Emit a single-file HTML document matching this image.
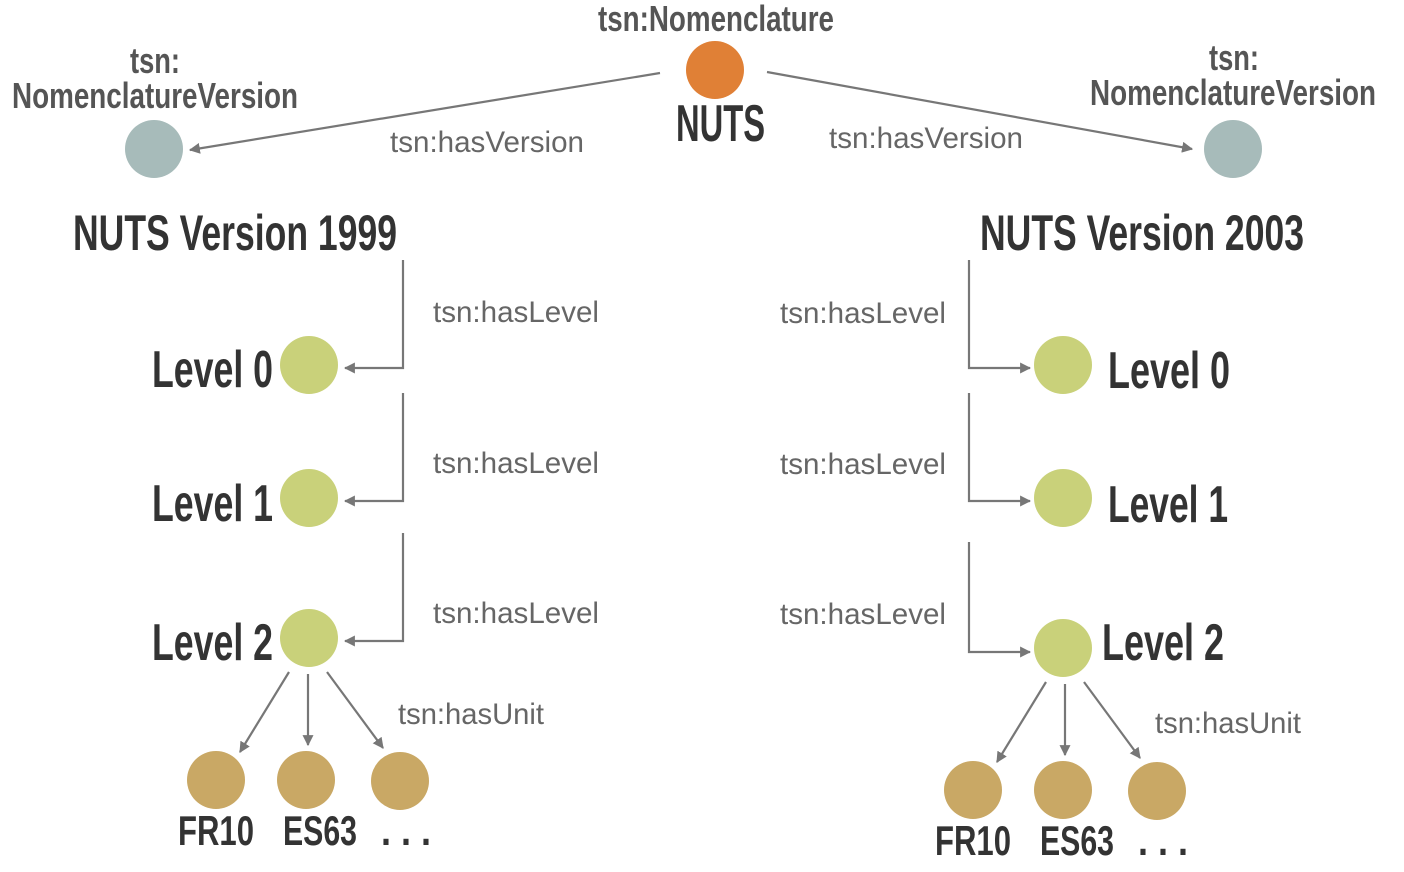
<!DOCTYPE html>
<html><head><meta charset="utf-8"><style>
html,body{margin:0;padding:0;background:#fff;}
svg{display:block}
.b{font-family:"Liberation Sans Narrow","Liberation Sans",sans-serif;font-weight:bold;}
.r{font-family:"Liberation Sans",sans-serif;fill:#666;font-size:30px;}
</style></head><body>
<svg width="1404" height="872" viewBox="0 0 1404 872" xmlns="http://www.w3.org/2000/svg">
<defs><marker id="a" viewBox="0 0 10 10" refX="9" refY="5" markerWidth="5" markerHeight="5" orient="auto"><path d="M0,0 L10,5 L0,10 z" fill="#777"/></marker></defs>
<g class="b" fill="#555" font-size="36">
<text x="598" y="31" textLength="236" lengthAdjust="spacingAndGlyphs">tsn:Nomenclature</text>
<text x="130" y="73" textLength="50" lengthAdjust="spacingAndGlyphs">tsn:</text>
<text x="12" y="108" textLength="286" lengthAdjust="spacingAndGlyphs">NomenclatureVersion</text>
<text x="1209" y="70" textLength="50" lengthAdjust="spacingAndGlyphs">tsn:</text>
<text x="1090" y="105" textLength="286" lengthAdjust="spacingAndGlyphs">NomenclatureVersion</text>
</g>
<g class="b" fill="#333">
<text x="676" y="141" font-size="52" textLength="89" lengthAdjust="spacingAndGlyphs">NUTS</text>
<text x="73" y="250" font-size="50" textLength="324" lengthAdjust="spacingAndGlyphs">NUTS Version 1999</text>
<text x="980" y="250" font-size="50" textLength="324" lengthAdjust="spacingAndGlyphs">NUTS Version 2003</text>
<g font-size="52">
<text x="152" y="387" textLength="121" lengthAdjust="spacingAndGlyphs">Level 0</text>
<text x="152" y="521" textLength="121" lengthAdjust="spacingAndGlyphs">Level 1</text>
<text x="152" y="660" textLength="121" lengthAdjust="spacingAndGlyphs">Level 2</text>
<text x="1108" y="388" textLength="122" lengthAdjust="spacingAndGlyphs">Level 0</text>
<text x="1108" y="522" textLength="120" lengthAdjust="spacingAndGlyphs">Level 1</text>
<text x="1102" y="660" textLength="122" lengthAdjust="spacingAndGlyphs">Level 2</text>
</g>
<g font-size="42">
<text x="178" y="845" textLength="76" lengthAdjust="spacingAndGlyphs">FR10</text>
<text x="283" y="845" textLength="74" lengthAdjust="spacingAndGlyphs">ES63</text>
<text x="381" y="845" textLength="50" lengthAdjust="spacingAndGlyphs">. . .</text>
<text x="935" y="855" textLength="76" lengthAdjust="spacingAndGlyphs">FR10</text>
<text x="1040" y="855" textLength="74" lengthAdjust="spacingAndGlyphs">ES63</text>
<text x="1138" y="855" textLength="50" lengthAdjust="spacingAndGlyphs">. . .</text>
</g>
</g>
<g class="r">
<text x="390" y="152" textLength="194" lengthAdjust="spacingAndGlyphs">tsn:hasVersion</text>
<text x="829" y="148" textLength="194" lengthAdjust="spacingAndGlyphs">tsn:hasVersion</text>
<text x="433" y="322" textLength="166" lengthAdjust="spacingAndGlyphs">tsn:hasLevel</text>
<text x="433" y="473" textLength="166" lengthAdjust="spacingAndGlyphs">tsn:hasLevel</text>
<text x="433" y="623" textLength="166" lengthAdjust="spacingAndGlyphs">tsn:hasLevel</text>
<text x="780" y="323" textLength="166" lengthAdjust="spacingAndGlyphs">tsn:hasLevel</text>
<text x="780" y="474" textLength="166" lengthAdjust="spacingAndGlyphs">tsn:hasLevel</text>
<text x="780" y="624" textLength="166" lengthAdjust="spacingAndGlyphs">tsn:hasLevel</text>
<text x="398" y="724" textLength="146" lengthAdjust="spacingAndGlyphs">tsn:hasUnit</text>
<text x="1155" y="733" textLength="146" lengthAdjust="spacingAndGlyphs">tsn:hasUnit</text>
</g>
<g stroke="#777" stroke-width="2.2" fill="none" marker-end="url(#a)">
<line x1="660" y1="73" x2="190" y2="150"/>
<line x1="767" y1="72" x2="1192" y2="149"/>
<polyline points="403,260 403,368 345,368"/>
<polyline points="403,393 403,501 345,501"/>
<polyline points="403,533 403,641 345,641"/>
<polyline points="969,260 969,368 1030,368"/>
<polyline points="969,393 969,501 1030,501"/>
<polyline points="969,542 969,652 1030,652"/>
<line x1="289" y1="672" x2="240" y2="752"/>
<line x1="308" y1="674" x2="308" y2="745"/>
<line x1="327" y1="672" x2="383" y2="748"/>
<line x1="1046" y1="682" x2="997" y2="762"/>
<line x1="1065" y1="684" x2="1065" y2="755"/>
<line x1="1084" y1="682" x2="1140" y2="758"/>
</g>
<circle cx="715" cy="70" r="29" fill="#E08036"/>
<circle cx="154" cy="149" r="29" fill="#A7BBBA"/>
<circle cx="1233" cy="149" r="29" fill="#A7BBBA"/>
<g fill="#C9D17A">
<circle cx="309" cy="365" r="29"/><circle cx="309" cy="498" r="29"/><circle cx="309" cy="638" r="29"/>
<circle cx="1063" cy="365" r="29"/><circle cx="1063" cy="498" r="29"/><circle cx="1063" cy="648" r="29"/>
</g>
<g fill="#C9A865">
<circle cx="216" cy="780" r="29"/><circle cx="306" cy="780" r="29"/><circle cx="400" cy="781" r="29"/>
<circle cx="973" cy="790" r="29"/><circle cx="1063" cy="790" r="29"/><circle cx="1157" cy="791" r="29"/>
</g>
</svg>
</body></html>
